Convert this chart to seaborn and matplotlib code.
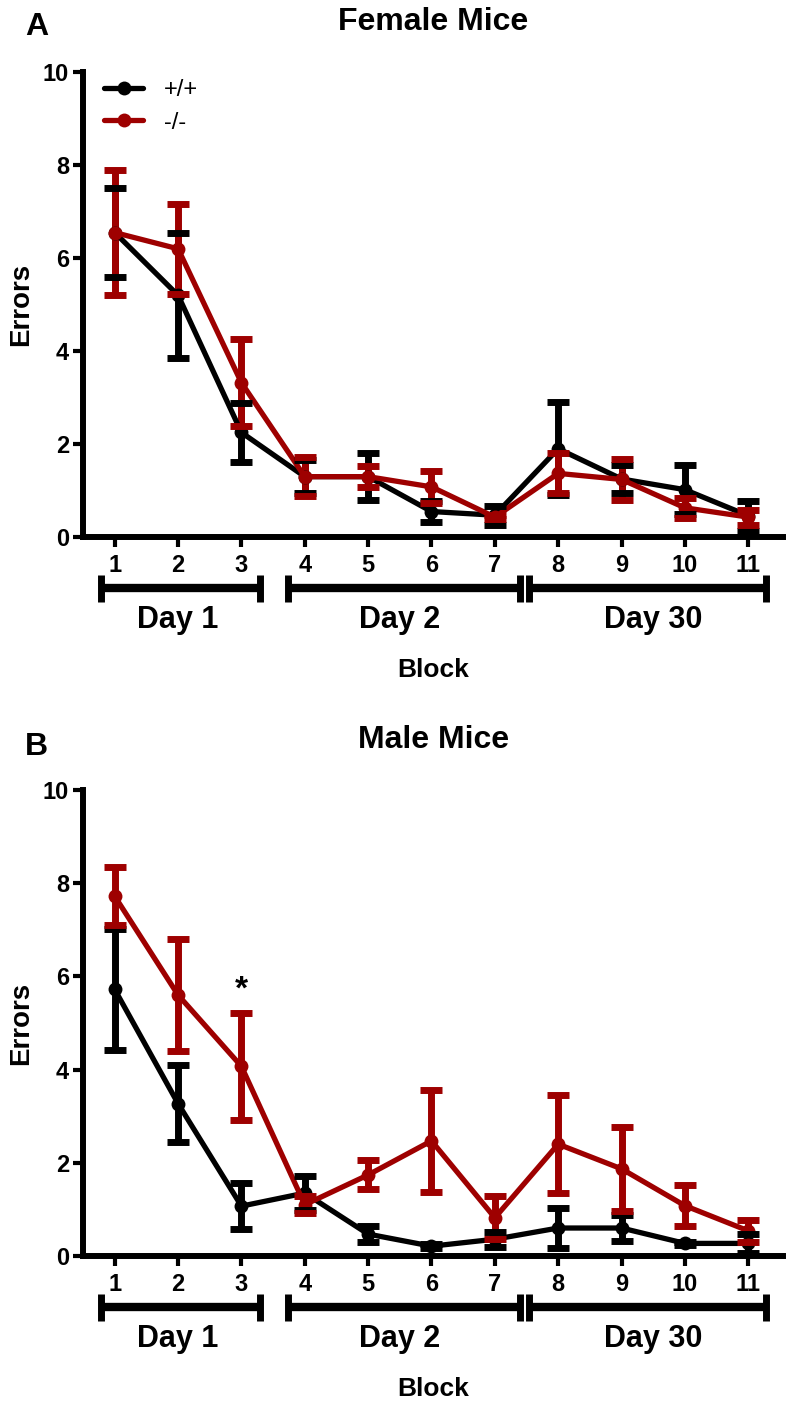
import pandas as pd
import seaborn as sns
import matplotlib.pyplot as plt
import matplotlib.transforms as mtransforms

# Block numbers and training days
blocks = [1, 2, 3, 4, 5, 6, 7, 8, 9, 10, 11]
day_names = ['Day 1', 'Day 2', 'Day 30']
genotypes = ['+/+', '-/-']

# Female mice: mean errors and SEM per block
female_wt_mean = [6.55, 5.2, 2.25, 1.3, 1.3, 0.55, 0.47, 1.9, 1.25, 1.02, 0.46]
female_wt_sem = [0.95, 1.35, 0.63, 0.35, 0.5, 0.22, 0.2, 1.0, 0.3, 0.52, 0.32]
female_ko_mean = [6.55, 6.2, 3.32, 1.3, 1.3, 1.08, 0.43, 1.37, 1.24, 0.63, 0.43]
female_ko_sem = [1.35, 0.97, 0.93, 0.42, 0.23, 0.34, 0.05, 0.43, 0.45, 0.21, 0.16]

# Male mice: mean errors and SEM per block
male_wt_mean = [5.72, 3.27, 1.07, 1.35, 0.47, 0.21, 0.36, 0.6, 0.6, 0.27, 0.27]
male_wt_sem = [1.29, 0.83, 0.5, 0.36, 0.18, 0.04, 0.16, 0.43, 0.27, 0.03, 0.2]
male_ko_mean = [7.72, 5.6, 4.07, 1.1, 1.74, 2.47, 0.82, 2.4, 1.87, 1.08, 0.54]
male_ko_sem = [0.62, 1.2, 1.15, 0.18, 0.31, 1.1, 0.46, 1.05, 0.9, 0.44, 0.23]

sns.set_theme(style='ticks')
plt.rcParams['font.family'] = ['Liberation Sans', 'DejaVu Sans']
plt.rcParams['font.weight'] = 'bold'
plt.rcParams['axes.labelweight'] = 'bold'
plt.rcParams['axes.titleweight'] = 'bold'
for key in ['text.color', 'axes.labelcolor', 'xtick.color', 'ytick.color',
            'axes.edgecolor']:
    plt.rcParams[key] = 'black'

colors = {'+/+': 'black', '-/-': '#9e0000'}
# z-order: stems, lines, caps (red above black)
zorders = {'+/+': (2.0, 2.4, 2.8), '-/-': (2.2, 2.6, 3.0)}

fig = plt.figure(figsize=(7.91, 14.06), dpi=100)
ax_f = fig.add_axes([0.105, 0.618, 0.885, 0.3307])
ax_m = fig.add_axes([0.105, 0.1067, 0.885, 0.3314])


def draw_panel(ax, title, letter, letter_y, means, sems, legend=False):
    for g in genotypes:
        c = colors[g]
        z_stem, z_line, z_cap = zorders[g]
        df = pd.DataFrame({'Block': blocks, 'Errors': means[g]})
        sns.lineplot(data=df, x='Block', y='Errors', color=c, marker='o',
                     markersize=10, markeredgewidth=0, linewidth=3.8,
                     label=g, ax=ax, zorder=z_line)
        eb = ax.errorbar(blocks, means[g], yerr=sems[g], fmt='none', ecolor=c,
                         elinewidth=5, capsize=8, capthick=5)
        eb.lines[2][0].set_zorder(z_stem)
        for cl in eb.lines[1]:
            cl.set_zorder(z_cap)

    ax.set_xlim(0.5, 11.55)
    ax.set_ylim(0, 10)
    ax.set_xticks(blocks)
    ax.set_yticks([0, 2, 4, 6, 8, 10])
    sns.despine(ax=ax)
    for side in ['left', 'bottom']:
        ax.spines[side].set_linewidth(4.3)
    ax.tick_params(axis='both', width=3, length=7, labelsize=17, color='black',
                   labelcolor='black')
    ax.tick_params(axis='x', pad=5)
    ax.tick_params(axis='y', pad=3)

    ax.set_title(title, fontsize=23, pad=30, color='black')
    ax.set_ylabel('Errors', fontsize=20, color='black')
    ax.set_xlabel('Block', fontsize=19, color='black')
    ax.yaxis.set_label_coords(-0.07, 0.5)
    ax.xaxis.set_label_coords(0.5, -0.26)
    fig.text(25 / 791, letter_y, letter, fontsize=23, ha='left', va='baseline',
             color='black')

    # day brackets under the x axis
    trans = mtransforms.blended_transform_factory(ax.transData, ax.transAxes)
    spans = [(0.79, 3.30), (3.73, 7.40), (7.54, 11.28)]
    label_x = [2.0, 5.5, 9.5]
    yb = -0.11
    for (x0, x1), lx, name in zip(spans, label_x, day_names):
        ax.plot([x0, x1], [yb, yb], transform=trans, color='black', lw=6,
                clip_on=False, solid_capstyle='butt')
        for xe in (x0, x1):
            ax.plot([xe, xe], [yb - 0.029, yb + 0.029], transform=trans,
                    color='black', lw=5, clip_on=False, solid_capstyle='butt')
        ax.text(lx, -0.195, name, transform=trans, ha='center', va='baseline',
                fontsize=22, color='black')

    if legend:
        ax.legend(loc='upper left', bbox_to_anchor=(0.03, 0.985), frameon=False,
                  prop={'size': 17, 'weight': 'normal'}, handlelength=1.65,
                  handletextpad=0.9, labelspacing=0.45, borderpad=0,
                  borderaxespad=0, labelcolor='black')
    else:
        leg = ax.get_legend()
        if leg is not None:
            leg.remove()


draw_panel(ax_f, 'Female Mice', 'A', 1 - 35 / 1406,
           {'+/+': female_wt_mean, '-/-': female_ko_mean},
           {'+/+': female_wt_sem, '-/-': female_ko_sem}, legend=True)
draw_panel(ax_m, 'Male Mice', 'B', 1 - 755 / 1406,
           {'+/+': male_wt_mean, '-/-': male_ko_mean},
           {'+/+': male_wt_sem, '-/-': male_ko_sem})

# significance marker at block 3 (male)
ax_m.text(3, 5.7, '*', ha='center', va='center', fontsize=24, color='black')

plt.savefig('out.png', dpi=100)
